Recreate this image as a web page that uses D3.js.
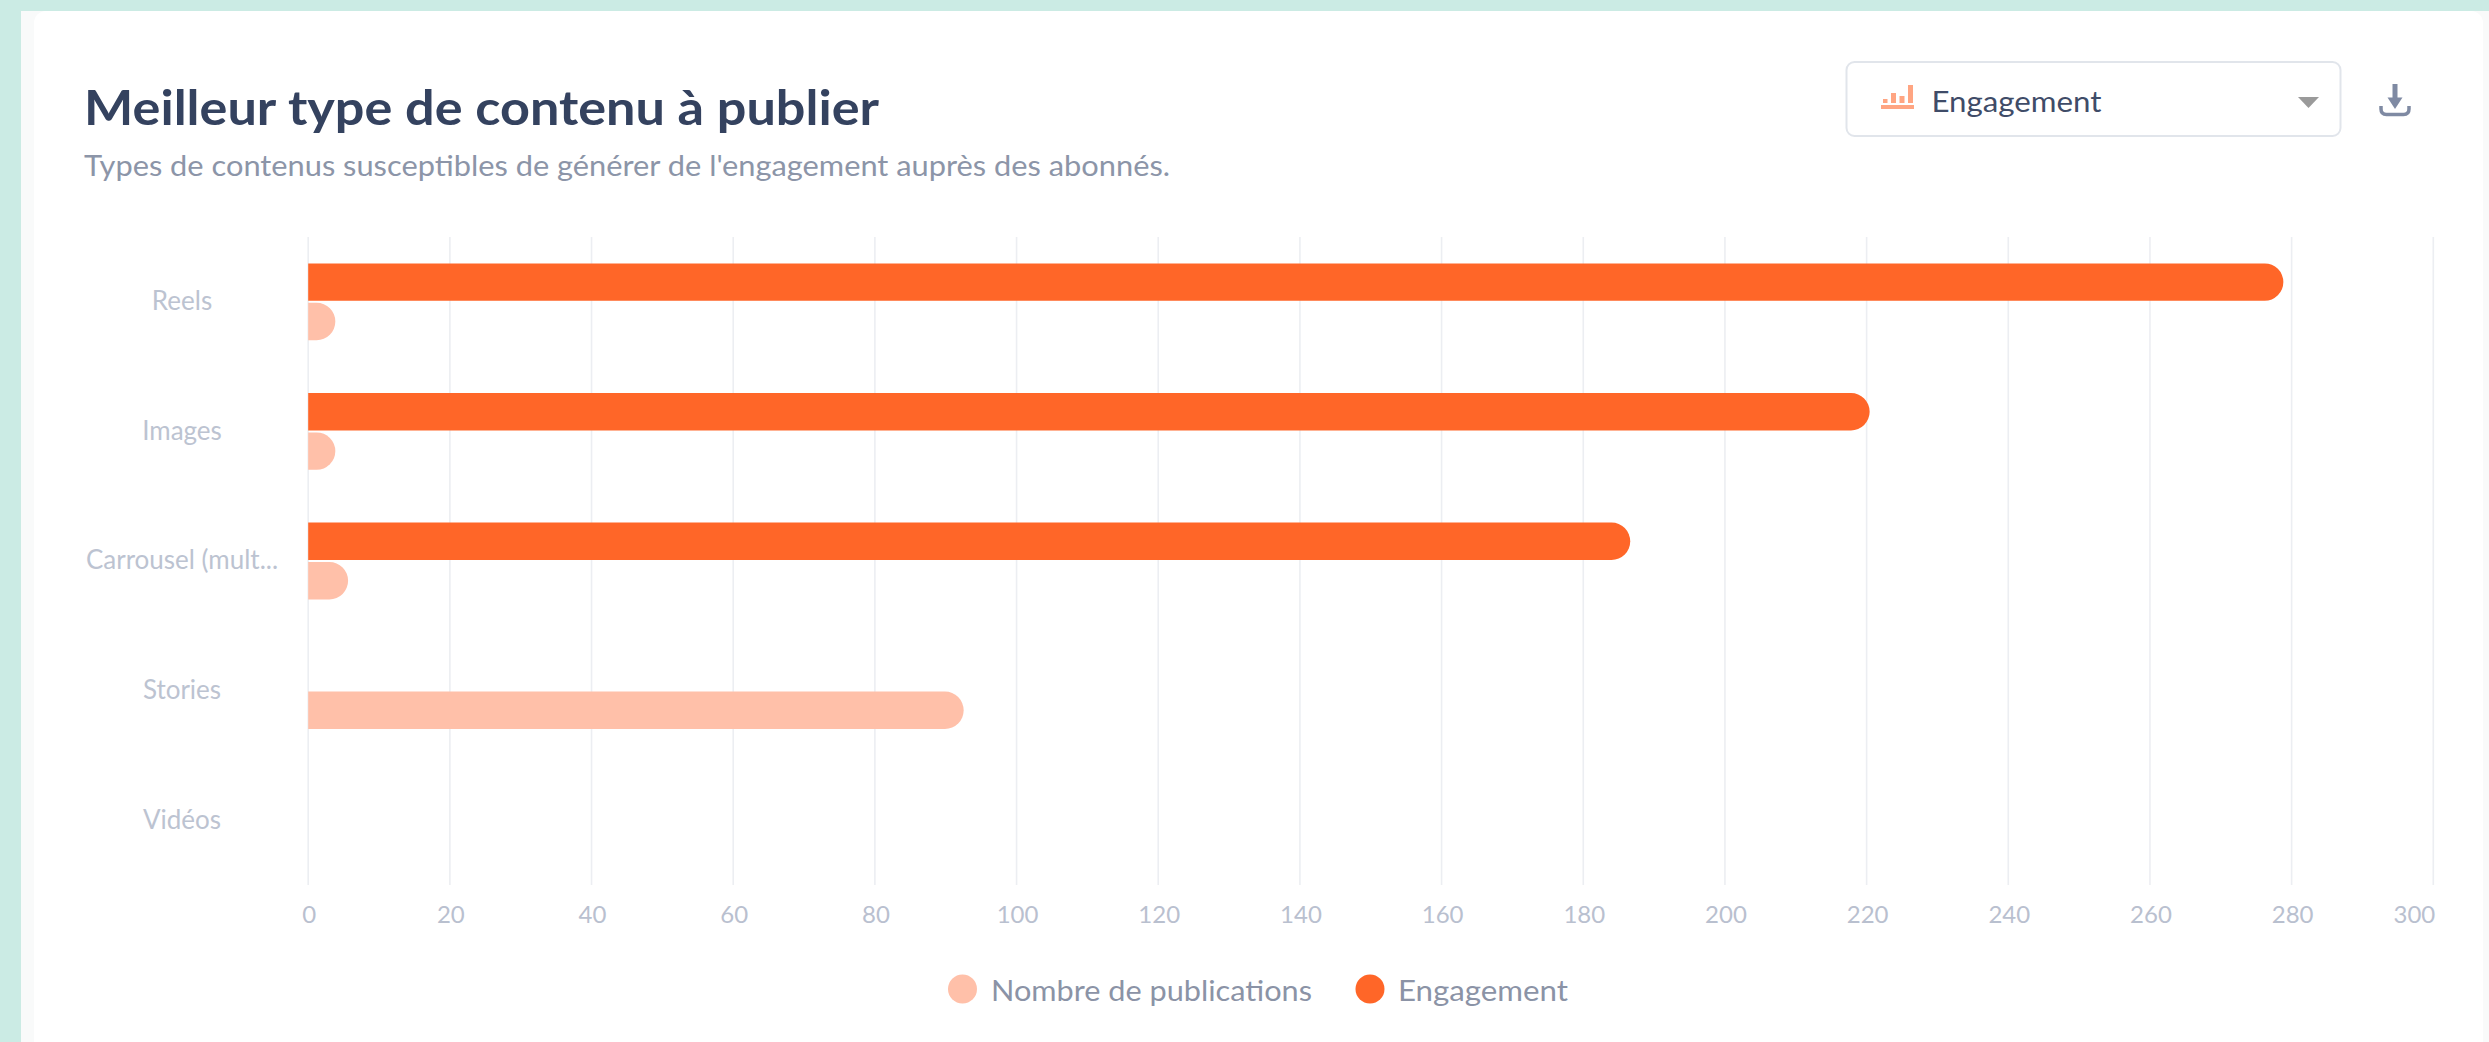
<!DOCTYPE html>
<html lang="fr">
<head>
<meta charset="utf-8">
<title>Meilleur type de contenu à publier</title>
<script src="https://cdn.jsdelivr.net/npm/d3@7/dist/d3.min.js"></script>
<style>
  html, body { margin: 0; padding: 0; background: #cbebe4; overflow: hidden; }
  svg { display: block; font-family: Lato, "Noto Sans", sans-serif; }
</style>
</head>
<body>
<svg id="chart" width="2489" height="1042"></svg>
<script>
// Content types, top to bottom
const categories = ["Reels", "Images", "Carrousel (mult...", "Stories", "Vidéos"];
const engagement = [278.9, 220.5, 186.7, 0, 0];
const publications = [3.9, 3.9, 5.7, 92.6, 0];
const xTicks = d3.range(0, 301, 20);
const seriesNames = ["Nombre de publications", "Engagement"];

const ORANGE = "#ff6628", PEACH = "#ffc0a9";
const svg = d3.select("#chart");

// Page and card background
svg.append("rect").attr("x", 21).attr("y", 11).attr("width", 2468).attr("height", 1031).attr("fill", "#f9fafa");
svg.append("rect").attr("x", 34).attr("y", 11).attr("width", 2449).attr("height", 1060).attr("rx", 12).attr("fill", "#ffffff");

// Text helper: the width argument keeps each string to its measured run
function label(x, y, str, size, weight, color, width, anchor) {
  const t = svg.append("text").attr("x", x).attr("y", y).text(str)
    .attr("font-size", size).attr("font-weight", weight).attr("fill", color)
    .attr("text-anchor", anchor || "start");
  if (width) t.attr("textLength", width).attr("lengthAdjust", "spacingAndGlyphs");
  return t;
}

label(84, 125, "Meilleur type de contenu à publier", 47, 700, "#34425f", 795);
label(84, 176, "Types de contenus susceptibles de générer de l'engagement auprès des abonnés.", 28, 400, "#8c95a8", 1086);

// Metric selector
svg.append("rect").attr("x", 1846.5).attr("y", 62).attr("width", 494).attr("height", 74).attr("rx", 8)
  .attr("fill", "#fff").attr("stroke", "#e1e5eb").attr("stroke-width", 2);
const icon = svg.append("g").attr("fill", "#ffa582");
[[1883, 99, 4.5, 4], [1891, 93, 5, 10], [1899.5, 96, 5, 7], [1908, 85, 5, 18], [1881, 105, 33, 4]].forEach(b =>
  icon.append("rect").attr("x", b[0]).attr("y", b[1]).attr("width", b[2]).attr("height", b[3]));
label(1931.5, 112, "Engagement", 29, 400, "#3f4c68", 170);
svg.append("path").attr("d", "M2298 97H2319L2308.5 108Z").attr("fill", "#9a9a9a");

// Download icon
const dl = svg.append("g").attr("fill", "none").attr("stroke", "#7f8aa3");
dl.append("path").attr("d", "M2395 84V100").attr("stroke-width", 5);
dl.append("path").attr("d", "M2387.5 97.5H2402.5L2395 109Z").attr("fill", "#7f8aa3").attr("stroke", "none");
dl.append("path").attr("d", "M2381 106V109Q2381 114.5 2386.5 114.5H2403.5Q2409 114.5 2409 109V106").attr("stroke-width", 3.5);

// Scales
const x = d3.scaleLinear().domain([0, 300]).range([307.7, 2432.8]);
const y = d3.scaleBand().domain(categories).range([237, 885]);
const BAR_H = 37.4;

// Vertical grid and value labels
const xAxis = svg.append("g").attr("transform", "translate(0,885)")
  .call(d3.axisBottom(x).tickValues(xTicks).tickSize(-648).tickPadding(21));
xAxis.select(".domain").remove();
xAxis.selectAll("line").attr("stroke", "#eceef2").attr("stroke-width", 1.6);
xAxis.selectAll("text").attr("font-size", 24).attr("font-family", "Lato").attr("fill", "#b9c0cf").attr("dx", 1);
// The last value label is held inside the plot's right edge
xAxis.selectAll("text").filter(d => d === 300).attr("text-anchor", "end").attr("dx", 2);

// Category labels, centred in the left gutter
const yAxis = svg.append("g").call(d3.axisLeft(y).tickSize(0).tickPadding(0));
yAxis.attr("transform", "translate(182,0)");
yAxis.select(".domain").remove();
yAxis.selectAll("text").attr("font-size", 26).attr("font-family", "Lato").attr("fill", "#bcc3d1")
  .attr("text-anchor", "middle").attr("dy", "0.32em");

// Horizontal bar rounded on its right end only
function barPath(value, top) {
  const x0 = x(0) + 0.5, x1 = x(value), r = BAR_H / 2;
  const p = d3.path();
  p.moveTo(x0, top);
  p.lineTo(x1 - r, top);
  p.arc(x1 - r, top + r, r, -Math.PI / 2, Math.PI / 2);
  p.lineTo(x0, top + BAR_H);
  p.closePath();
  return p.toString();
}

const rows = categories.map((c, i) => ({ c, e: engagement[i], p: publications[i] }));
svg.append("g").selectAll("path").data(rows.filter(d => d.p > 0)).join("path")
  .attr("fill", PEACH).attr("d", d => barPath(d.p, y(d.c) + y.bandwidth() / 2 + 1));
svg.append("g").selectAll("path").data(rows.filter(d => d.e > 0)).join("path")
  .attr("fill", ORANGE).attr("d", d => barPath(d.e, y(d.c) + y.bandwidth() / 2 - 1 - BAR_H));

// Legend
[[962.5, 991, 321, PEACH], [1370, 1398, 170, ORANGE]].forEach((l, i) => {
  svg.append("circle").attr("cx", l[0]).attr("cy", 989).attr("r", 14.5).attr("fill", l[3]);
  label(l[1], 1001, seriesNames[i], 29, 400, "#8b93a6", l[2]);
});
</script>
</body>
</html>
